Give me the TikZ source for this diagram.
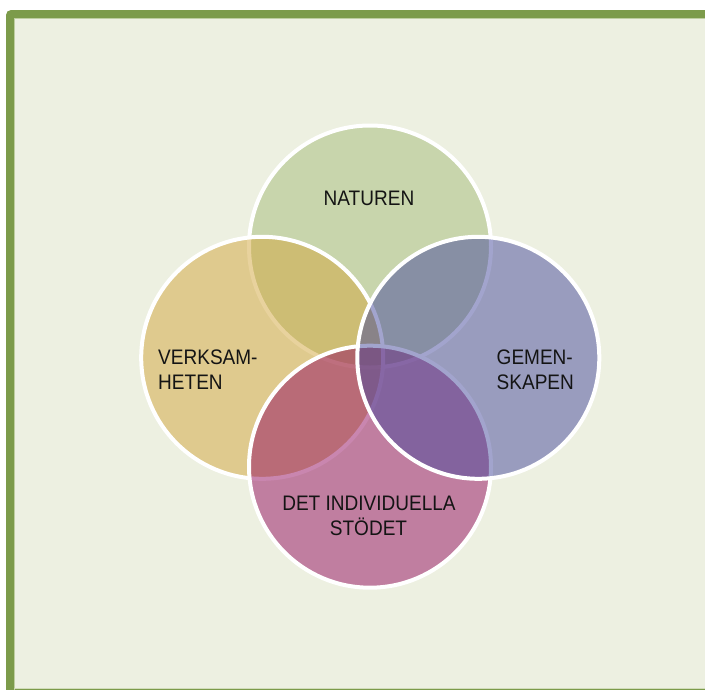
\documentclass[tikz,border=0pt]{standalone}
\usepackage{fontspec}
\setmainfont{Liberation Sans}[FakeStretch=0.906]
\definecolor{bgc}{RGB}{237,240,225}
\definecolor{framec}{RGB}{124,155,74}
\definecolor{framein}{RGB}{190,206,160}
\definecolor{ctop}{RGB}{165,188,121}
\definecolor{cleft}{RGB}{211,166,61}
\definecolor{cright}{RGB}{71,74,157}
\definecolor{cbottom}{RGB}{149,14,97}
\definecolor{txt}{RGB}{20,20,20}
\begin{document}
\begin{tikzpicture}[x=1pt,y=-1pt,
  lbl/.style={inner sep=0pt, anchor=base, font=\fontsize{21}{25}\selectfont, text=txt},
  lblw/.style={lbl, anchor=base west},
  circ/.style={draw=white, line width=4pt, fill opacity=0.5}]
\useasboundingbox (0,0) rectangle (705,689);
\fill[white] (0,0) rectangle (705,689);
\begin{scope}
\clip (0,0) rectangle (705,689);
\fill[framec, rounded corners=5pt] (6,10) rectangle (720,700);
\fill[bgc] (14,18) rectangle (720,688);
\draw[framein, line width=0.8pt] (14.4,700) -- (14.4,18.4) -- (720,18.4);
\draw[framein!60!bgc, line width=0.8pt] (14,688.3) -- (720,688.3);
\end{scope}
% circles: top, left, bottom, right
\path[circ, fill=ctop] (370,246.5) circle (121);
\path[circ, fill=cleft] (262.2,357.8) circle (121);
\path[circ, fill=cbottom] (370,466.7) circle (121);
\path[circ, fill=cright] (478.3,357.8) circle (121);
% labels
\node[lbl] (naturen) at (369,205.5) {NATUREN};
\node[lblw] (verk1) at (158,364) {VERKSAM-};
\node[lblw] (verk2) at (158,389) {HETEN};
\node[lblw] (gem1) at (496.5,364) {GEMEN-};
\node[lblw] (gem2) at (496.5,389) {SKAPEN};
\node[lbl] (ind1) at (369,510) {DET INDIVIDUELLA};
\node[lbl] (ind2) at (368.5,535) {STÖDET};
\end{tikzpicture}
\end{document}
